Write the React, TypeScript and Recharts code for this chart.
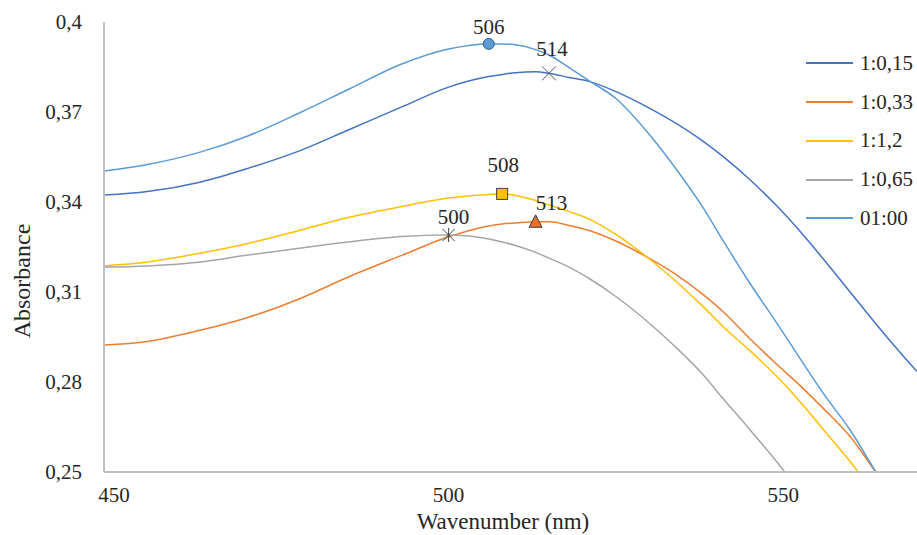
import React from 'react';
import { ComposedChart, Line, Scatter, XAxis, YAxis, Legend, Label } from 'recharts';

// wavelength (nm)
const wavelengths = [
  448.5, 455, 463, 470, 478, 485, 493, 500, 506, 508, 510, 513, 515, 518,
  521, 525, 530, 534, 538, 541, 545, 549, 553, 556, 560, 564, 568, 570,
];

const ratio015 = [
  0.3423, 0.3435, 0.3467, 0.3512, 0.3573, 0.364, 0.3717, 0.3783, 0.3818, 0.3825,
  0.3831, 0.3834, 0.3829, 0.3815, 0.3802, 0.3768, 0.3713, 0.3662, 0.3603, 0.3552,
  0.3475, 0.3388, 0.329, 0.321, 0.31, 0.299, 0.2885, 0.2835,
];
const ratio033 = [
  0.2923, 0.2935, 0.2973, 0.3015, 0.308, 0.315, 0.3222, 0.3284, 0.332, 0.3327,
  0.333, 0.3334, 0.3334, 0.3322, 0.3305, 0.327, 0.3212, 0.3158, 0.3092, 0.3035,
  0.2945, 0.286, 0.2778, 0.2712, 0.2618, 0.2495, 0.238, 0.233,
];
const ratio12 = [
  0.3187, 0.32, 0.323, 0.3262, 0.3307, 0.3348, 0.3385, 0.3413, 0.3425, 0.3427,
  0.3422, 0.3405, 0.339, 0.3368, 0.3343, 0.3292, 0.321, 0.3135, 0.3052, 0.2985,
  0.2905, 0.282, 0.2722, 0.2642, 0.2535, 0.242, 0.232, 0.228,
];
const ratio065 = [
  0.3183, 0.3187, 0.32, 0.3223, 0.3247, 0.3267, 0.3285, 0.329, 0.3277, 0.3267,
  0.3255, 0.3232, 0.3213, 0.3183, 0.3145, 0.3085, 0.2996, 0.2915, 0.2825, 0.2745,
  0.2642, 0.2535, 0.242, 0.233, 0.222, 0.21, 0.198, 0.192,
];
const ratio100 = [
  0.3503, 0.3525, 0.3567, 0.362, 0.37, 0.3775, 0.386, 0.391, 0.3927, 0.3927,
  0.3924, 0.3908, 0.389, 0.3848, 0.3804, 0.3745, 0.3625, 0.351, 0.3382, 0.3272,
  0.313, 0.2998, 0.2862, 0.2762, 0.264, 0.2495, 0.236, 0.23,
];

const xTicks = [450, 500, 550];
const yTicks = [0.25, 0.28, 0.31, 0.34, 0.37, 0.4];

const SERIES = [
  { key: 'r015', name: '1:0,15', color: '#4472C4', values: ratio015 },
  { key: 'r033', name: '1:0,33', color: '#ED7D31', values: ratio033 },
  { key: 'r12', name: '1:1,2', color: '#FFC000', values: ratio12 },
  { key: 'r065', name: '1:0,65', color: '#A5A5A5', values: ratio065 },
  { key: 'r100', name: '01:00', color: '#5B9BD5', values: ratio100 },
];

// peak markers: series, wavelength of the point, printed label
const PEAKS = [
  { series: 'r015', nm: 515, label: '514', kind: 'cross', fill: 'none', dx: 3, dy: -25 },
  { series: 'r033', nm: 513, label: '513', kind: 'triangle', fill: '#E8702A', dx: 16, dy: -19 },
  { series: 'r12', nm: 508, label: '508', kind: 'square', fill: '#FFC000', dx: 1, dy: -29 },
  { series: 'r065', nm: 500, label: '500', kind: 'star', fill: 'none', dx: 5, dy: -18 },
  { series: 'r100', nm: 506, label: '506', kind: 'circle', fill: '#5B9BD5', dx: 0, dy: -17 },
];

const data = wavelengths.map((nm, i) => {
  const row: Record<string, number> = { nm };
  SERIES.forEach((s) => {
    row[s.key] = s.values[i];
  });
  return row;
});

const FONT = '"Liberation Serif", Tinos, "DejaVu Serif", "Noto Serif", "Times New Roman", Times, serif';
const TEXT = '#262626';

function PeakShape(props: any) {
  const { cx, cy, peak } = props;
  if (cx == null || cy == null) return <g />;
  let mark: React.ReactNode = null;
  if (peak.kind === 'circle') {
    mark = <circle cx={cx} cy={cy} r={5.5} fill={peak.fill} stroke="#2f5f8f" strokeWidth={1} />;
  } else if (peak.kind === 'square') {
    mark = <rect x={cx - 5.5} y={cy - 5.5} width={11} height={11} fill={peak.fill} stroke="#404040" strokeWidth={1} />;
  } else if (peak.kind === 'triangle') {
    mark = (
      <path
        d={`M${cx},${cy - 7}L${cx + 6.5},${cy + 5.5}L${cx - 6.5},${cy + 5.5}Z`}
        fill={peak.fill}
        stroke="#404040"
        strokeWidth={1}
      />
    );
  } else if (peak.kind === 'cross') {
    mark = (
      <path
        d={`M${cx - 7},${cy - 7}L${cx + 7},${cy + 7}M${cx + 7},${cy - 7}L${cx - 7},${cy + 7}`}
        stroke="#595959"
        strokeWidth={1}
      />
    );
  } else {
    mark = (
      <path
        d={`M${cx - 6},${cy - 6}L${cx + 6},${cy + 6}M${cx + 6},${cy - 6}L${cx - 6},${cy + 6}M${cx},${cy - 7}L${cx},${cy + 7}`}
        stroke="#404040"
        strokeWidth={1}
      />
    );
  }
  return (
    <g>
      {mark}
      <text
        x={cx + peak.dx}
        y={cy + peak.dy}
        dy="0.35em"
        textAnchor="middle"
        style={{ fontFamily: FONT }}
        fontSize={21}
        fill={TEXT}
      >
        {peak.label}
      </text>
    </g>
  );
}

function renderLegend() {
  return (
    <div style={{ fontFamily: FONT, fontSize: 21, color: TEXT }}>
      {SERIES.map((s) => (
        <div key={s.key} style={{ display: 'flex', alignItems: 'center', height: 38.75 }}>
          <span style={{ display: 'inline-block', width: 47, borderTop: `2px solid ${s.color}`, marginRight: 7 }} />
          <span>{s.name}</span>
        </div>
      ))}
    </div>
  );
}

export default function App() {
  return (
    <div style={{ position: 'absolute', left: 0, top: 0, background: '#fff', fontFamily: FONT }}>
      <ComposedChart
        width={917}
        height={535}
        data={data}
        margin={{ top: 22, right: 0, bottom: 0, left: 0 }}
        style={{ fontFamily: FONT }}
      >
        <XAxis
          dataKey="nm"
          type="number"
          domain={[448.5, 570]}
          ticks={xTicks}
          height={63}
          tickSize={0}
          tickMargin={15}
          tickLine={false}
          axisLine={{ stroke: '#BFBFBF', strokeWidth: 2 }}
          tick={{ fontSize: 21, fill: TEXT, style: { fontFamily: FONT } }}
        >
          <Label
            content={() => (
              <text x={503} y={529} textAnchor="middle" style={{ fontFamily: FONT }} fontSize={23} fill={TEXT}>
                Wavenumber (nm)
              </text>
            )}
          />
        </XAxis>
        <YAxis
          type="number"
          domain={[0.25, 0.4]}
          ticks={yTicks}
          allowDataOverflow
          width={104}
          tickSize={0}
          tickMargin={22}
          tickLine={false}
          axisLine={{ stroke: '#BFBFBF', strokeWidth: 2 }}
          tickFormatter={(v: number) => String(v).replace('.', ',')}
          tick={{ fontSize: 21, fill: TEXT, style: { fontFamily: FONT } }}
        >
          <Label
            content={() => (
              <text
                transform="translate(30,281) rotate(-90)"
                textAnchor="middle"
                style={{ fontFamily: FONT }}
                fontSize={24}
                fill={TEXT}
              >
                Absorbance
              </text>
            )}
          />
        </YAxis>
        {/* same scale, no clipping, so the peak labels can sit above the plot top */}
        <YAxis yAxisId="peaks" type="number" domain={[0.25, 0.4]} hide />
        <Legend
          layout="vertical"
          align="center"
          verticalAlign="middle"
          content={renderLegend}
          wrapperStyle={{ left: 806, top: 44, width: 111 }}
        />
        {SERIES.map((s) => (
          <Line
            key={s.key}
            dataKey={s.key}
            name={s.name}
            type="monotone"
            stroke={s.color}
            strokeWidth={1.5}
            dot={false}
            activeDot={false}
            isAnimationActive={false}
          />
        ))}
        {PEAKS.map((p) => {
          const row = data.find((d) => d.nm === p.nm)!;
          return (
            <Scatter
              key={p.label}
              yAxisId="peaks"
              data={[{ nm: p.nm, value: row[p.series] }]}
              dataKey="value"
              legendType="none"
              isAnimationActive={false}
              shape={(props: any) => <PeakShape {...props} peak={p} />}
            />
          );
        })}
      </ComposedChart>
    </div>
  );
}
